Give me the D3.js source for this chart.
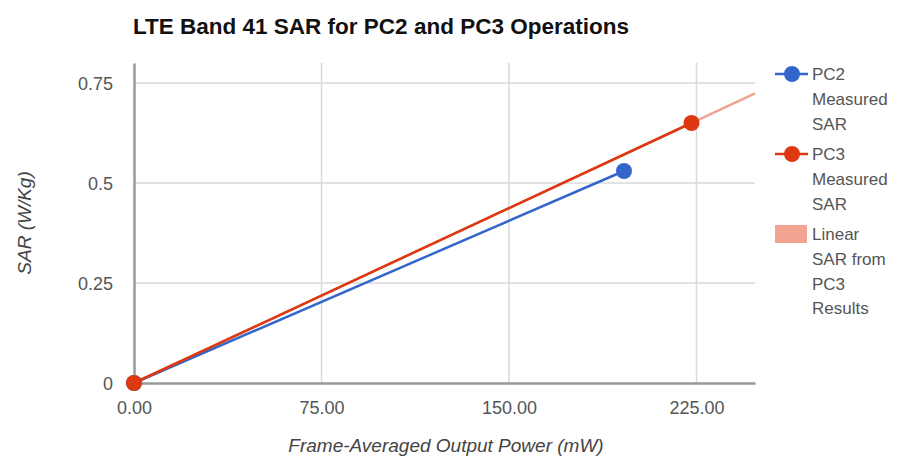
<!DOCTYPE html>
<html>
<head>
<meta charset="utf-8">
<script src="https://cdn.jsdelivr.net/npm/d3@7"></script>
<style>
  body { margin: 0; background: #fff; }
  svg { display: block; font-family: Arial, "Liberation Sans", sans-serif; }
</style>
</head>
<body>
<svg id="chart" width="908" height="461"></svg>
<script>
// Output power (mW) and measured SAR (W/Kg)
const pc2Power = [0, 196];
const pc2Sar = [0, 0.53];
const pc3Power = [0, 223];
const pc3Sar = [0, 0.65];

const xTicks = [0, 75, 150, 225];
const yTicks = [0, 0.25, 0.5, 0.75];
const xDomain = [0, 248.4];
const yDomain = [0, 0.8];

const legendLabels = [
  ["PC2", "Measured", "SAR"],
  ["PC3", "Measured", "SAR"],
  ["Linear", "SAR from", "PC3", "Results"]
];

const blue = "#3366cc", red = "#dc3912", trendColor = "#f0a491";

const svg = d3.select("#chart");
const m = { left: 134, right: 153, top: 63, bottom: 78 };
const W = 908, H = 461;

const x = d3.scaleLinear().domain(xDomain).range([m.left, W - m.right]);
const y = d3.scaleLinear().domain(yDomain).range([H - m.bottom, m.top]);

// Title
svg.append("text")
  .attr("x", 133).attr("y", 34)
  .attr("font-size", 22.5).attr("font-weight", "bold").attr("fill", "#111")
  .text("LTE Band 41 SAR for PC2 and PC3 Operations");

// Gridlines
svg.append("g").selectAll("line").data(yTicks.filter(d => d > 0)).join("line")
  .attr("x1", x(xDomain[0])).attr("x2", x(xDomain[1]))
  .attr("y1", d => y(d)).attr("y2", d => y(d))
  .attr("stroke", "#d9d9d9").attr("stroke-width", 1.5);
svg.append("g").selectAll("line").data(xTicks.filter(d => d > 0)).join("line")
  .attr("y1", y(yDomain[0])).attr("y2", y(yDomain[1]))
  .attr("x1", d => x(d)).attr("x2", d => x(d))
  .attr("stroke", "#d9d9d9").attr("stroke-width", 1.5);

// Axes
const xAxis = svg.append("g")
  .attr("transform", `translate(0,${y(0)})`)
  .call(d3.axisBottom(x).tickValues(xTicks).tickFormat(d3.format(".2f")).tickSize(0).tickPadding(18));
const yAxis = svg.append("g")
  .attr("transform", `translate(${x(0)},0)`)
  .call(d3.axisLeft(y).tickValues(yTicks).tickFormat(d => d === 0 ? "0" : String(d)).tickSize(0).tickPadding(21));
[xAxis, yAxis].forEach(g => {
  g.select(".domain").attr("stroke", "#999").attr("stroke-width", 2.5);
  g.selectAll("text").attr("font-size", 18).attr("fill", "#555").attr("font-family", "Arial, 'Liberation Sans', sans-serif");
});
yAxis.selectAll("text").attr("dy", "0.35em");

// Axis titles
svg.append("text")
  .attr("x", 446).attr("y", 452)
  .attr("text-anchor", "middle").attr("font-size", 19).attr("font-style", "italic").attr("fill", "#444")
  .text("Frame-Averaged Output Power (mW)");
svg.append("text")
  .attr("transform", `translate(31,${(y(yDomain[0]) + y(yDomain[1])) / 2}) rotate(-90)`)
  .attr("text-anchor", "middle").attr("font-size", 19).attr("font-style", "italic").attr("fill", "#444")
  .text("SAR (W/Kg)");

// Linear trend through origin from PC3 results, extended across the plot
const slope = pc3Sar[1] / pc3Power[1];
svg.append("line")
  .attr("x1", x(0)).attr("y1", y(0))
  .attr("x2", x(xDomain[1])).attr("y2", y(slope * xDomain[1]))
  .attr("stroke", trendColor).attr("stroke-width", 2.5);

const line = d3.line().x(d => x(d[0])).y(d => y(d[1]));
const series = [
  { px: pc2Power, sy: pc2Sar, color: blue },
  { px: pc3Power, sy: pc3Sar, color: red }
];
series.forEach(s => {
  const pts = s.px.map((p, i) => [p, s.sy[i]]);
  svg.append("path").datum(pts).attr("d", line)
    .attr("fill", "none").attr("stroke", s.color).attr("stroke-width", 2.5);
  svg.append("g").selectAll("circle").data(pts).join("circle")
    .attr("cx", d => x(d[0])).attr("cy", d => y(d[1])).attr("r", 8)
    .attr("fill", s.color);
});

// Legend
const lg = svg.append("g").attr("font-size", 17).attr("fill", "#555");
const legendTops = [74, 154, 234];
const lineGap = 24.8;
legendLabels.forEach((lines, i) => {
  const ty = legendTops[i];
  if (i < 2) {
    const c = i === 0 ? blue : red;
    lg.append("line").attr("x1", 775).attr("x2", 808).attr("y1", ty).attr("y2", ty)
      .attr("stroke", c).attr("stroke-width", 2.5);
    lg.append("circle").attr("cx", 792).attr("cy", ty).attr("r", 8).attr("fill", c);
  } else {
    lg.append("rect").attr("x", 775).attr("y", ty - 9).attr("width", 32).attr("height", 18)
      .attr("fill", trendColor);
  }
  lines.forEach((t, j) => {
    lg.append("text").attr("x", 812).attr("y", ty + j * lineGap).attr("dy", "0.35em")
      .attr("fill", "#555").text(t);
  });
});
</script>
</body>
</html>
